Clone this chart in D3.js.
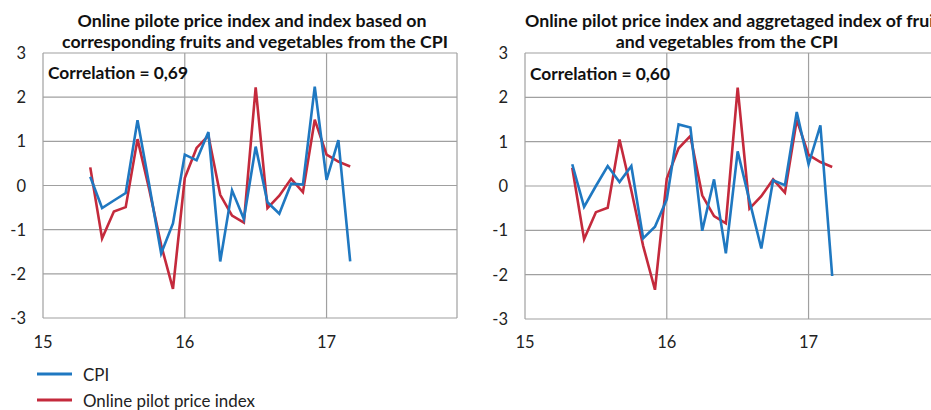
<!DOCTYPE html>
<html>
<head>
<meta charset="utf-8">
<script src="https://cdn.jsdelivr.net/npm/d3@7"></script>
<style>
  html, body { margin: 0; padding: 0; background: #fff; }
  svg { display: block; font-family: Lato, "Open Sans", sans-serif; }
</style>
</head>
<body>
<svg id="chart" width="931" height="410"></svg>
<script>
// ---------------- DATA ----------------
const months = ["2015-05","2015-06","2015-07","2015-08","2015-09","2015-10","2015-11","2015-12",
  "2016-01","2016-02","2016-03","2016-04","2016-05","2016-06","2016-07","2016-08","2016-09",
  "2016-10","2016-11","2016-12","2017-01","2017-02","2017-03"];
// CPI, corresponding fruits and vegetables (left panel)
const cpiCorresponding = [0.20,-0.51,-0.34,-0.17,1.48,0.00,-1.54,-0.86,0.70,0.57,1.21,-1.72,
  -0.11,-0.76,0.88,-0.38,-0.64,0.04,0.02,2.24,0.13,1.03,-1.72];
// CPI, aggregated fruits and vegetables (right panel)
const cpiAggregated = [0.49,-0.47,0.00,0.45,0.09,0.45,-1.18,-0.92,-0.30,1.39,1.32,-1.01,
  0.15,-1.52,0.78,-0.33,-1.41,0.13,0.02,1.67,0.49,1.37,-2.03];
// Online pilot price index (both panels)
const onlineIndex = [0.41,-1.20,-0.59,-0.49,1.05,-0.10,-1.35,-2.34,0.17,0.85,1.13,-0.21,
  -0.68,-0.84,2.22,-0.51,-0.23,0.15,-0.15,1.49,0.70,0.54,0.43];
const yTicks = [-3,-2,-1,0,1,2,3];
const xTicks = [15,16,17];
const xTickLabels = ["15","16","17"];
const seriesNames = ["CPI","Online pilot price index"];
const titlesLeft = ["Online pilote price index and index based on",
  "corresponding fruits and vegetables from the CPI"];
const titlesRight = ["Online pilot price index and aggretaged index of fruits",
  "and vegetables from the CPI"];
const correlations = ["Correlation = 0,69","Correlation = 0,60"];

// ---------------- STYLE ----------------
const BLUE = "#1f78c1", RED = "#c42a3c", GRID = "#a0a0a0";
const svg = d3.select("#chart");

// decimal "year" in the axis' two-digit format
const xVal = m => { const [y, mo] = m.split("-").map(Number); return (y - 2000) + (mo - 1) / 12; };

function fit(sel, target) {
  const w = sel.node().getComputedTextLength();
  const fs = parseFloat(sel.attr("font-size"));
  sel.attr("font-size", fs * target / w);
  return fs * target / w;
}

function panel(cfg) {
  const g = svg.append("g");
  const x = d3.scaleLinear().domain([15, 17.92]).range([cfg.left, cfg.left + 414]);
  const y = d3.scaleLinear().domain([-3, 3]).range([cfg.bottom, 53]);

  // horizontal grid
  g.append("g").selectAll("line").data(yTicks).join("line")
    .attr("x1", x(15)).attr("x2", x(17.92))
    .attr("y1", d => y(d)).attr("y2", d => y(d))
    .attr("stroke", GRID).attr("stroke-width", 1.2);
  // vertical grid + frame
  g.append("g").selectAll("line").data([15, 16, 17, 17.92]).join("line")
    .attr("x1", d => x(d)).attr("x2", d => x(d))
    .attr("y1", y(3)).attr("y2", y(-3))
    .attr("stroke", GRID).attr("stroke-width", 1.2);

  // y tick labels
  g.append("g").selectAll("text").data(yTicks).join("text")
    .attr("x", cfg.left - 17).attr("y", d => y(d))
    .attr("text-anchor", "end").attr("dominant-baseline", "central")
    .attr("font-size", 16.5).attr("fill", "#222").text(d => d);
  // x tick labels
  g.append("g").selectAll("text").data(xTicks).join("text")
    .attr("x", d => x(d)).attr("y", 348)
    .attr("text-anchor", "middle")
    .attr("font-size", 16.5).attr("fill", "#222").text((d, i) => xTickLabels[i]);

  const line = d3.line().x((d, i) => x(xVal(months[i]))).y(d => y(d));
  g.append("path").datum(onlineIndex).attr("d", line)
    .attr("fill", "none").attr("stroke", RED).attr("stroke-width", 2.6).attr("stroke-linejoin", "miter");
  g.append("path").datum(cfg.cpi).attr("d", line)
    .attr("fill", "none").attr("stroke", BLUE).attr("stroke-width", 2.6).attr("stroke-linejoin", "miter");

  // correlation
  const c = g.append("text").attr("x", cfg.left + 5).attr("y", cfg.corrY)
    .attr("font-weight", "bold").attr("font-size", 16).attr("fill", "#111").text(cfg.corr);
  fit(c, 140);
  return g;
}

panel({left: 43, bottom: 318, cpi: cpiCorresponding, corr: correlations[0], corrY: 78.5});
panel({left: 525, bottom: 319, cpi: cpiAggregated, corr: correlations[1], corrY: 80});

// titles
const t2 = svg.append("text").attr("x", 255).attr("y", 48).attr("text-anchor", "middle")
  .attr("font-weight", "bold").attr("font-size", 16).attr("fill", "#111").text(titlesLeft[1]);
const tfs = fit(t2, 386);
svg.append("text").attr("x", 252).attr("y", 27).attr("text-anchor", "middle")
  .attr("font-weight", "bold").attr("font-size", tfs).attr("fill", "#111").text(titlesLeft[0]);
svg.append("text").attr("x", 525).attr("y", 27).attr("text-anchor", "start")
  .attr("font-weight", "bold").attr("font-size", tfs).attr("fill", "#111").text(titlesRight[0]);
svg.append("text").attr("x", 727).attr("y", 48).attr("text-anchor", "middle")
  .attr("font-weight", "bold").attr("font-size", tfs).attr("fill", "#111").text(titlesRight[1]);

// legend
const legend = svg.append("g");
const lg = legend.selectAll("g").data(seriesNames).join("g")
  .attr("transform", (d, i) => `translate(0,${374 + i * 26})`);
lg.append("line").attr("x1", 37).attr("x2", 72).attr("y1", 0).attr("y2", 0)
  .attr("stroke", (d, i) => i === 0 ? BLUE : RED).attr("stroke-width", 2.8);
const lt = lg.append("text").attr("x", 83).attr("y", 0).attr("dominant-baseline", "central")
  .attr("font-size", 16).attr("fill", "#222").text(d => d);
const lfs = fit(d3.select(lt.nodes()[1]), 172);
lt.attr("font-size", lfs);
</script>
</body>
</html>
